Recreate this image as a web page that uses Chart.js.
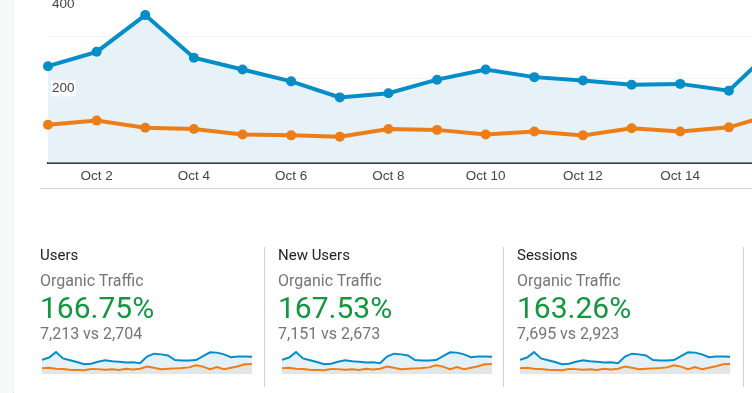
<!DOCTYPE html>
<html>
<head>
<meta charset="utf-8">
<title>Organic Traffic</title>
<script src="https://cdn.jsdelivr.net/npm/chart.js@4.4.1/dist/chart.umd.min.js"></script>
<style>
  html, body { margin: 0; padding: 0; background: #fff; }
  #page { position: relative; width: 752px; height: 393px; overflow: hidden; font-family: Roboto, Arial, sans-serif; }
  .strip { position: absolute; left: 0; top: 0; width: 13px; height: 393px; background: #f7f9fa; border-right: 1px dotted #e2e6e9; z-index: 2; }
  #main-chart { position: absolute; left: -8px; top: -20px; }
  .sep { position: absolute; left: 40px; right: 0; top: 188px; height: 1px; background: #d4d4d4; }
  .divider { position: absolute; top: 247px; width: 1px; height: 140px; background: #d0d0d0; }
  .card { position: absolute; top: 0; width: 230px; height: 393px; }
  .card div { position: absolute; left: 0; line-height: 1; white-space: nowrap; }
  .m-title { top: 248px; font-size: 15px; color: #222; }
  .m-seg { top: 273px; font-size: 16px; color: #757575; }
  .m-pct { top: 293px; font-size: 30px; color: #12963f; }
  .m-vs { top: 326px; font-size: 16px; color: #757575; }
  .spark { position: absolute; top: 349px; }
</style>
</head>
<body>
<div id="page">
  <div class="strip"></div>
  <canvas id="main-chart" width="1525" height="209"></canvas>
  <div class="sep"></div>
  <div id="cards"></div>
</div>

<script>
// data (current period = blue, previous period = orange)
const days = ['Oct 1', 'Oct 2', 'Oct 3', 'Oct 4', 'Oct 5', 'Oct 6', 'Oct 7', 'Oct 8',
  'Oct 9', 'Oct 10', 'Oct 11', 'Oct 12', 'Oct 13', 'Oct 14', 'Oct 15', 'Oct 16',
  'Oct 17', 'Oct 18', 'Oct 19', 'Oct 20', 'Oct 21', 'Oct 22', 'Oct 23', 'Oct 24',
  'Oct 25', 'Oct 26', 'Oct 27', 'Oct 28', 'Oct 29', 'Oct 30', 'Oct 31'];
const currentPeriod = [229, 263, 350, 249, 221, 193, 155, 165, 197, 221, 203, 195, 185, 187, 171, 280,
  325, 314, 297, 224, 218, 218, 224, 286, 347, 342, 314, 269, 280, 280, 274];
const previousPeriod = [90, 100, 83, 80, 67, 65, 62, 80, 78, 67, 74, 65, 82, 74, 84, 118,
  101, 78, 84, 90, 95, 106, 140, 118, 78, 112, 78, 101, 123, 157, 162];
const yLabels = [200, 400];

// metric cards
const metricNames = ['Users', 'New Users', 'Sessions'];
const segmentName = 'Organic Traffic';
const metricChange = ['166.75%', '167.53%', '163.26%'];
const metricNow = ['7,213', '7,151', '7,695'];
const metricBefore = ['2,704', '2,673', '2,923'];

const BLUE = '#058dc7';
const ORANGE = '#ed7e17';

// GA style y labels: inside the plot, just under their grid line, with a white backing
const insideYLabels = {
    id: 'insideYLabels',
    afterDatasetsDraw(chart) {
        const { ctx, chartArea, scales } = chart;
        ctx.save();
        ctx.font = '13.5px Arial, "Liberation Sans"';
        ctx.textAlign = 'left';
        ctx.textBaseline = 'middle';
        yLabels.forEach(v => {
            const text = String(v);
            const y = scales.y.getPixelForValue(v) + 10;
            const x = chartArea.left + 4;
            const w = ctx.measureText(text).width;
            ctx.fillStyle = 'rgba(255,255,255,0.85)';
            ctx.fillRect(x - 1, y - 8, w + 2, 16);
            ctx.fillStyle = '#444';
            ctx.fillText(text, x, y);
        });
        ctx.restore();
    }
};

(function () {
    // main line chart (wider than the window, right side is cut off like the screenshot)
    new Chart(document.getElementById('main-chart'), {
        type: 'line',
        data: {
            labels: days,
            datasets: [
                {
                    data: currentPeriod,
                    borderColor: BLUE,
                    backgroundColor: '#e6f1f8',
                    pointBackgroundColor: BLUE,
                    borderWidth: 4,
                    pointRadius: 5,
                    pointBorderWidth: 0,
                    fill: 'origin',
                    tension: 0,
                    clip: false,
                    order: 2
                },
                {
                    data: previousPeriod,
                    borderColor: ORANGE,
                    pointBackgroundColor: ORANGE,
                    borderWidth: 4,
                    pointRadius: 5,
                    pointBorderWidth: 0,
                    fill: false,
                    tension: 0,
                    clip: false,
                    order: 1
                }
            ]
        },
        options: {
            responsive: false,
            animation: false,
            layout: { padding: { left: 48, right: 10, top: 14, bottom: 0 } },
            plugins: { legend: { display: false }, tooltip: { enabled: false } },
            scales: {
                x: {
                    grid: { display: false, drawTicks: false },
                    border: { display: true, color: '#3a3a3a', width: 2 },
                    ticks: {
                        autoSkip: false,
                        maxRotation: 0,
                        padding: 5,
                        color: '#444',
                        font: { family: 'Arial, "Liberation Sans"', size: 13.5 },
                        callback: (val, idx) => (idx % 2 === 1 ? days[idx] : '')
                    }
                },
                y: {
                    min: 0,
                    max: 400,
                    border: { display: false },
                    grid: {
                        drawTicks: false,
                        color: (ctx) => (ctx.tick && ctx.tick.value === 0 ? 'rgba(0,0,0,0)' : 'rgba(40,70,90,0.07)')
                    },
                    ticks: {
                        stepSize: 100,
                        mirror: true,
                        padding: 4,
                        labelOffset: 10,
                        font: { family: 'Arial, "Liberation Sans"', size: 13.5 },
                        callback: () => ''
                    }
                }
            }
        },
        plugins: [insideYLabels]
    });

    // metric cards with sparklines
    const cardLeft = [40, 278, 517];
    const sparkLeft = [42, 282, 520];
    const dividerLeft = [264, 503, 743];
    const $cards = document.getElementById('cards');

    metricNames.forEach((name, i) => {
        const card = document.createElement('div');
        card.className = 'card';
        card.style.left = cardLeft[i] + 'px';
        card.innerHTML =
            '<div class="m-title">' + name + '</div>' +
            '<div class="m-seg">' + segmentName + '</div>' +
            '<div class="m-pct">' + metricChange[i] + '</div>' +
            '<div class="m-vs">' + metricNow[i] + ' vs ' + metricBefore[i] + '</div>';
        $cards.appendChild(card);

        const div = document.createElement('div');
        div.className = 'divider';
        div.style.left = dividerLeft[i] + 'px';
        $cards.appendChild(div);

        const cv = document.createElement('canvas');
        cv.className = 'spark';
        cv.width = 210;
        cv.height = 25;
        cv.style.left = sparkLeft[i] + 'px';
        $cards.appendChild(cv);

        new Chart(cv, {
            type: 'line',
            data: {
                labels: days,
                datasets: [
                    {
                        data: currentPeriod,
                        borderColor: BLUE,
                        backgroundColor: '#e5f0f7',
                        borderWidth: 2,
                        pointRadius: 0,
                        fill: 'origin',
                        clip: false,
                        order: 2
                    },
                    {
                        data: previousPeriod,
                        borderColor: ORANGE,
                        backgroundColor: '#e4e6e5',
                        borderWidth: 2,
                        pointRadius: 0,
                        fill: 'origin',
                        clip: false,
                        order: 1
                    }
                ]
            },
            options: {
                responsive: false,
                animation: false,
                layout: { padding: 0 },
                plugins: { legend: { display: false }, tooltip: { enabled: false } },
                scales: {
                    x: { display: false },
                    y: { display: false, min: 0, max: 400 }
                }
            }
        });
    });
})();
</script>
</body>
</html>
